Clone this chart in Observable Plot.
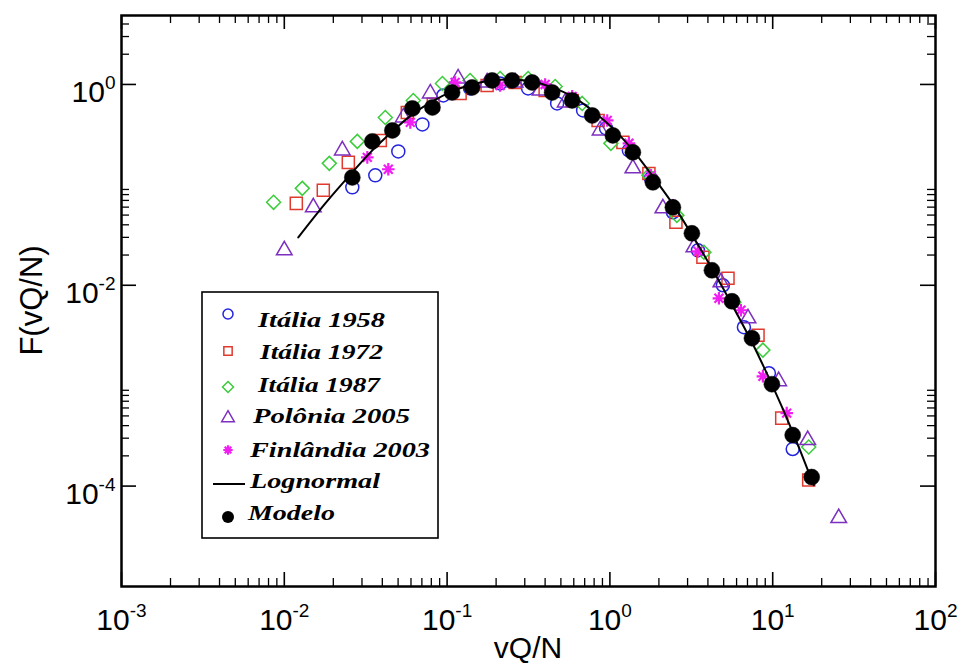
<!DOCTYPE html>
<html><head><meta charset="utf-8">
<script src="https://cdn.jsdelivr.net/npm/d3@7"></script>
<script src="https://cdn.jsdelivr.net/npm/@observablehq/plot@0.6"></script>
<style>body{margin:0;background:#fff} svg{display:block}</style>
</head><body><div id="chart"></div>
<script>
// ---------- tick labels ----------
const xMajor = [1e-3, 1e-2, 1e-1, 1, 10, 100];
const xMajorExp = ["-3", "-2", "-1", "0", "1", "2"];
const yMajor = [1, 1e-2, 1e-4];
const yMajorExp = ["0", "-2", "-4"];
const xMinor = [1e-3, 1e-2, 1e-1, 1, 10].flatMap(b => [2,3,4,5,6,7,8,9].map(k => k * b));
const yMinor = [1e-4, 1e-2, 1].flatMap(b => [2,3,4,5,6,7,8,9].map(k => k * b)).filter(v => v < 4.86);
const xTitle = "vQ/N";
const yTitle = "F(vQ/N)";

// ---------- series ----------
const seriesNames = ["Itália 1958", "Itália 1972", "Itália 1987", "Polônia 2005", "Finlândia 2003", "Lognormal", "Modelo"];

const italia1958X = [0.02617, 0.03622, 0.05015, 0.07052, 0.09477, 0.1384, 0.2116, 0.3145, 0.4742, 0.6845, 0.9477, 1.308, 1.786, 2.438, 3.474, 4.944, 6.656, 9.477, 13.27];
const italia1958Y = [0.0944, 0.1243, 0.2154, 0.400, 0.777, 0.912, 1.023, 0.912, 0.647, 0.551, 0.365, 0.2204, 0.116, 0.0533, 0.0223, 0.0100, 0.00382, 0.00133, 0.000234];

const italia1972X = [0.01185, 0.01736, 0.02473, 0.03888, 0.05695, 0.08228, 0.1202, 0.1761, 0.2617, 0.4002, 0.5864, 0.8463, 1.202, 1.736, 2.544, 3.727, 5.313, 8.125, 11.36, 16.64];
const italia1972Y = [0.0654, 0.0882, 0.1674, 0.277, 0.526, 0.633, 0.814, 0.977, 1.047, 0.872, 0.693, 0.438, 0.265, 0.130, 0.0424, 0.0190, 0.01174, 0.00318, 0.000475, 0.000115];

const italia1987X = [0.008593, 0.0129, 0.0189, 0.02808, 0.04173, 0.0620, 0.09361, 0.1384, 0.2116, 0.3145, 0.4611, 0.6757, 1.014, 1.736, 2.579, 3.779, 5.776, 8.707, 16.64];
const italia1987Y = [0.0670, 0.0923, 0.1637, 0.271, 0.469, 0.693, 1.023, 1.096, 1.147, 1.147, 0.955, 0.647, 0.259, 0.1243, 0.0497, 0.0213, 0.00677, 0.00226, 0.000245];

const polonia2005X = [0.01, 0.01507, 0.02272, 0.05383, 0.07884, 0.1168, 0.1761, 0.2617, 0.3727, 0.5313, 0.8707, 1.384, 2.116, 3.281, 4.806, 7.052, 10.88, 16.41, 25.44];
const polonia2005Y = [0.0223, 0.0597, 0.2204, 0.469, 0.814, 1.147, 1.047, 1.047, 0.872, 0.662, 0.3485, 0.146, 0.0584, 0.0239, 0.0107, 0.00469, 0.00111, 0.000287, 0.000048];

const finlandia2003X = [0.03235, 0.04353, 0.05943, 0.112, 0.2116, 0.4002, 0.5864, 0.9627, 1.308, 1.786, 2.438, 3.474, 4.673, 6.378, 8.707, 12.19];
const finlandia2003Y = [0.1878, 0.143, 0.419, 1.047, 0.977, 1.0, 0.760, 0.438, 0.259, 0.1243, 0.0625, 0.0218, 0.00742, 0.00564, 0.00124, 0.000533];

const lognormalX = [0.01219, 0.01786, 0.02617, 0.03474, 0.04611, 0.06121, 0.08125, 0.1073, 0.1424, 0.189, 0.2508, 0.3328, 0.4418, 0.5864, 0.7785, 1.043, 1.384, 1.837, 2.438, 3.235, 4.292, 5.695, 7.556, 10, 13.27, 17.86];
const lognormalY = [0.0300, 0.0654, 0.1332, 0.2204, 0.3406, 0.503, 0.677, 0.852, 1.0, 1.096, 1.121, 1.071, 0.934, 0.760, 0.551, 0.365, 0.2204, 0.121, 0.0640, 0.0307, 0.0141, 0.00618, 0.00259, 0.000989, 0.000345, 0.000102];

const modeloX = [0.02617, 0.03474, 0.04611, 0.06121, 0.08125, 0.1073, 0.1424, 0.189, 0.2508, 0.3328, 0.4418, 0.5864, 0.7785, 1.043, 1.384, 1.837, 2.438, 3.189, 4.233, 5.619, 7.459, 9.888, 13.27, 17.36];
const modeloY = [0.1187, 0.271, 0.3485, 0.577, 0.590, 0.832, 0.934, 1.096, 1.096, 1.047, 0.832, 0.693, 0.491, 0.311, 0.211, 0.106, 0.0597, 0.0329, 0.0141, 0.00693, 0.00297, 0.001035, 0.000322, 0.000123];

// ---------- styles ----------
const colors = {blue: "#2424e0", red: "#e0392e", green: "#3ccc3c", purple: "#7d2fc0", magenta: "#f01ef0"};

const zip = (xs, ys) => xs.map((x, i) => ({x, y: ys[i]}));
const d1958 = zip(italia1958X, italia1958Y);
const d1972 = zip(italia1972X, italia1972Y);
const d1987 = zip(italia1987X, italia1987Y);
const dPol = zip(polonia2005X, polonia2005Y);
const dFin = zip(finlandia2003X, finlandia2003Y);
const dLog = zip(lognormalX, lognormalY);
const dMod = zip(modeloX, modeloY);

// 8-spoke star (Grace style)
const star8 = {
  draw(ctx, size) {
    const r = Math.sqrt(size / Math.PI);
    for (let i = 0; i < 4; i++) {
      const a = i * Math.PI / 4, dx = r * Math.cos(a), dy = r * Math.sin(a);
      ctx.moveTo(-dx, -dy); ctx.lineTo(dx, dy);
    }
  }
};
// square diamond (equal width and height)
const diamond45 = {
  draw(ctx, size) {
    const r = Math.sqrt(size / Math.PI);
    ctx.moveTo(0, -r); ctx.lineTo(r, 0); ctx.lineTo(0, r); ctx.lineTo(-r, 0); ctx.closePath();
  }
};

const W = 962, H = 666, mL = 121, mR = 27, mT = 15, mB = 80;
const frameH = H - mT - mB, frameW = W - mL - mR;
const tickFont = "'Liberation Sans', Arial, Helvetica, sans-serif";

const chart = Plot.plot({
  width: W, height: H,
  marginLeft: mL, marginRight: mR, marginTop: mT, marginBottom: mB,
  x: {type: "log", domain: [1e-3, 100], axis: null},
  y: {type: "log", domain: [1e-5, 4.86], axis: null},
  style: {background: "white", fontFamily: tickFont, color: "black"},
  marks: [
    // ticks (inward, all four sides)
    Plot.tickX(xMajor, {x: d => d, insetTop: frameH - 14, stroke: "black", strokeWidth: 1.6}),
    Plot.tickX(xMajor, {x: d => d, insetBottom: frameH - 14, stroke: "black", strokeWidth: 1.6}),
    Plot.tickX(xMinor, {x: d => d, insetTop: frameH - 8, stroke: "black", strokeWidth: 1.3}),
    Plot.tickX(xMinor, {x: d => d, insetBottom: frameH - 8, stroke: "black", strokeWidth: 1.3}),
    Plot.tickY(yMajor, {y: d => d, insetRight: frameW - 15, stroke: "black", strokeWidth: 1.6}),
    Plot.tickY(yMajor, {y: d => d, insetLeft: frameW - 15, stroke: "black", strokeWidth: 1.6}),
    Plot.tickY(yMinor, {y: d => d, insetRight: frameW - 8, stroke: "black", strokeWidth: 1.3}),
    Plot.tickY(yMinor, {y: d => d, insetLeft: frameW - 8, stroke: "black", strokeWidth: 1.3}),
    // tick labels
    Plot.text(xMajor, {x: d => d, text: (d, i) => "10^" + xMajorExp[i], frameAnchor: "bottom", dy: 34,
      fontSize: 30, textAnchor: "middle", lineAnchor: "middle", fill: "black", ariaLabel: "xticklabel"}),
    Plot.text(yMajor, {y: d => d, text: (d, i) => "10^" + yMajorExp[i], frameAnchor: "left", dx: -6, dy: 8,
      fontSize: 30, textAnchor: "end", lineAnchor: "middle", fill: "black", ariaLabel: "yticklabel"}),
    // data
    Plot.dot(d1958, {x: "x", y: "y", symbol: "circle", r: 6.5, stroke: colors.blue, strokeWidth: 1.5, fill: "none"}),
    Plot.dot(d1972, {x: "x", y: "y", symbol: "square", r: 6.8, stroke: colors.red, strokeWidth: 1.5, fill: "none"}),
    Plot.dot(d1987, {x: "x", y: "y", symbol: diamond45, r: 7, stroke: colors.green, strokeWidth: 1.5, fill: "none"}),
    Plot.dot(dPol, {x: "x", y: "y", symbol: "triangle", r: 5.8, stroke: colors.purple, strokeWidth: 1.5, fill: "none"}),
    Plot.dot(dFin, {x: "x", y: "y", symbol: star8, r: 6.3, stroke: colors.magenta, strokeWidth: 2.2, fill: "none"}),
    Plot.line(dLog, {x: "x", y: "y", stroke: "black", strokeWidth: 2, curve: "catmull-rom"}),
    Plot.dot(dMod, {x: "x", y: "y", r: 8, fill: "black", stroke: "black", strokeWidth: 0.5}),
    Plot.frame({stroke: "black", strokeWidth: 2.5})
  ]
});

document.getElementById("chart").appendChild(chart);
const svg = d3.select(chart);

// superscript tick labels
svg.selectAll("text").each(function () {
  const m = /^10\^(.+)$/.exec(this.textContent);
  if (!m) return;
  const isX = this.closest("g[aria-label='xticklabel']") != null;
  const s = d3.select(this);
  s.text(null);
  s.append("tspan").text("10");
  s.append("tspan").attr("dy", isX ? -17 : -13).attr("font-size", 19).text(m[1]);
});

// axis titles
svg.append("text").attr("x", mL + frameW / 2).attr("y", 658).attr("text-anchor", "middle")
  .attr("font-family", tickFont).attr("font-size", 30).attr("fill", "black").text(xTitle);
svg.append("text").attr("transform", `translate(42,${mT + frameH / 2}) rotate(-90)`).attr("text-anchor", "middle")
  .attr("font-family", tickFont).attr("font-size", 31).attr("fill", "black").text(yTitle);

// legend
const lg = svg.append("g").attr("text-anchor", "start");
lg.append("rect").attr("x", 202).attr("y", 292).attr("width", 236).attr("height", 246)
  .attr("fill", "white").attr("stroke", "black").attr("stroke-width", 1.6);
const legendRows = [
  {name: seriesNames[0], sym: d3.symbolCircle, size: Math.PI * 25, stroke: colors.blue, sy: 314, ty: 327, tx: 258, tw: 127},
  {name: seriesNames[1], sym: d3.symbolSquare, size: Math.PI * 22, stroke: colors.red, sy: 351, ty: 359, tx: 260, tw: 123},
  {name: seriesNames[2], sym: diamond45, size: Math.PI * 30, stroke: colors.green, sy: 387, ty: 392, tx: 258, tw: 122},
  {name: seriesNames[3], sym: d3.symbolTriangle, size: Math.PI * 22, stroke: colors.purple, sy: 418, ty: 423, tx: 253, tw: 157},
  {name: seriesNames[4], sym: star8, size: Math.PI * 22, stroke: colors.magenta, sy: 450, ty: 457, tx: 250, tw: 180},
  {name: seriesNames[5], line: true, sy: 484, ty: 488, tx: 250, tw: 130},
  {name: seriesNames[6], dot: true, sy: 517, ty: 520, tx: 248, tw: 87}
];
for (const r of legendRows) {
  if (r.line) {
    lg.append("line").attr("x1", 213).attr("x2", 245).attr("y1", r.sy).attr("y2", r.sy)
      .attr("stroke", "black").attr("stroke-width", 2);
  } else if (r.dot) {
    lg.append("circle").attr("cx", 228).attr("cy", r.sy).attr("r", 6).attr("fill", "black");
  } else {
    lg.append("path").attr("d", d3.symbol(r.sym, r.size)()).attr("transform", `translate(228,${r.sy})`)
      .attr("fill", "none").attr("stroke", r.stroke).attr("stroke-width", r.sym === star8 ? 2.2 : 1.5);
  }
  lg.append("text").attr("x", r.tx).attr("y", r.ty).attr("text-anchor", "start")
    .attr("font-family", "'Liberation Serif', 'DejaVu Serif', serif").attr("font-weight", "bold").attr("font-style", "italic")
    .attr("font-size", 21).attr("fill", "black")
    .attr("textLength", r.tw).attr("lengthAdjust", "spacingAndGlyphs").text(r.name);
}
</script>
</body></html>
